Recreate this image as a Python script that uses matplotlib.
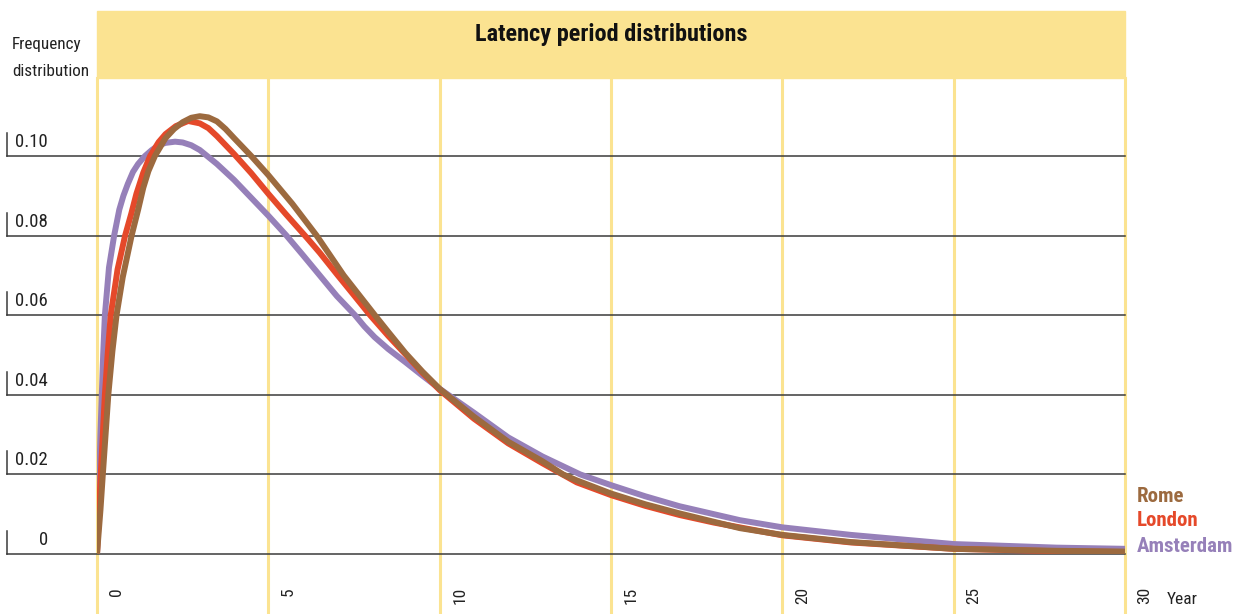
import matplotlib
matplotlib.use("Agg")
import matplotlib.pyplot as plt
from matplotlib import font_manager
from matplotlib.patches import Rectangle

# values (year, frequency)
rome_years = [0, 0.1, 0.17, 0.25, 0.33, 0.45, 0.57, 0.75, 1.01, 1.2, 1.35, 1.5, 1.69, 2.0,
              2.25, 2.5, 2.75, 3.0, 3.25, 3.5, 3.75, 4.0, 4.5, 5.0, 5.7, 6.41, 7.2, 8.11,
              8.5, 9.0, 9.5, 10.0, 11.0, 12.0, 13.0, 13.6, 14.0, 15.0, 16.0, 17.0, 18.0,
              18.76, 20.0, 22.0, 25.0, 28.0, 30.0]
rome_freq = [0, 0.011, 0.02, 0.030, 0.04, 0.051, 0.06, 0.0695, 0.08, 0.0865, 0.092,
             0.0962, 0.10, 0.1045, 0.1068, 0.1085, 0.1096, 0.110, 0.1097, 0.1087, 0.1068,
             0.1045, 0.1000, 0.0952, 0.0880, 0.080, 0.070, 0.060, 0.0558, 0.0505, 0.0458,
             0.0415, 0.0345, 0.0282, 0.0233, 0.020, 0.0185, 0.0152, 0.0125, 0.0102,
             0.0081, 0.0065, 0.0048, 0.0030, 0.0013, 0.0008, 0.0006]

london_years = [0, 0.05, 0.11, 0.17, 0.23, 0.31, 0.40, 0.6, 0.82, 1.0, 1.15, 1.35, 1.55,
                1.8, 2.0, 2.3, 2.66, 3.0, 3.25, 3.5, 4.0, 4.5, 5.0, 5.5, 6.12, 6.5, 7.0,
                7.5, 7.97, 8.5, 9.0, 9.5, 10.0, 11.0, 12.0, 13.0, 14.0, 15.0, 16.0, 17.0,
                18.0, 20.0, 22.0, 25.0, 28.0, 30.0]
london_freq = [0, 0.009, 0.02, 0.030, 0.04, 0.050, 0.06, 0.0715, 0.08, 0.0855, 0.0905,
               0.0958, 0.10, 0.1035, 0.1055, 0.1075, 0.1088, 0.1082, 0.107, 0.105, 0.1005,
               0.0957, 0.0905, 0.0855, 0.0795, 0.0757, 0.0703, 0.065, 0.060, 0.0548, 0.0502,
               0.0455, 0.0412, 0.0340, 0.0278, 0.0228, 0.0180, 0.0148, 0.0121, 0.0098,
               0.0079, 0.0047, 0.0029, 0.0013, 0.0007, 0.0005]

amsterdam_years = [0, 0.03, 0.07, 0.10, 0.14, 0.18, 0.23, 0.35, 0.5, 0.65, 0.77, 0.9,
                   1.05, 1.2, 1.40, 1.6, 1.8, 2.0, 2.28, 2.5, 2.75, 3.0, 3.5, 4.0, 4.5,
                   5.0, 5.53, 6.0, 6.5, 7.0, 7.53, 7.8, 8.1, 8.5, 9.0, 9.5, 10.0, 11.0,
                   12.0, 13.0, 14.1, 15.0, 16.0, 17.0, 18.76, 20.0, 22.0, 25.0, 28.0, 30.0]
amsterdam_freq = [0, 0.009, 0.02, 0.03, 0.04, 0.05, 0.06, 0.072, 0.08, 0.0865, 0.09,
                  0.0930, 0.0960, 0.0980, 0.10, 0.1015, 0.1027, 0.1033, 0.1036, 0.1034,
                  0.1027, 0.1015, 0.0980, 0.0940, 0.0895, 0.0850, 0.080, 0.0752, 0.070,
                  0.0648, 0.060, 0.0572, 0.0545, 0.0515, 0.0482, 0.0448, 0.0415, 0.0355,
                  0.0293, 0.0245, 0.020, 0.0173, 0.0145, 0.0120, 0.0085, 0.0067, 0.0048,
                  0.0025, 0.0016, 0.0013]

x_ticks = [0, 5, 10, 15, 20, 25, 30]
y_ticks = [0, 0.02, 0.04, 0.06, 0.08, 0.10]
y_labels = ["0", "0.02", "0.04", "0.06", "0.08", "0.10"]

brown = "#9c6a3f"
red = "#e5492a"
purple = "#9680b9"
yellow = "#fbe391"
grid_col = "#3a3a3a"

# pick a narrow font if one is around
names = {f.name for f in font_manager.fontManager.ttflist}
narrow = "DejaVu Sans"
for cand in ["Liberation Sans Narrow", "Roboto Condensed", "DejaVu Sans Condensed",
             "Open Sans Condensed", "Roboto"]:
    if cand in names:
        narrow = cand
        break
plt.rcParams["font.family"] = [narrow, "DejaVu Sans"]

W, H = 1242, 614
fig = plt.figure(figsize=(W / 100, H / 100), dpi=100)
ax = fig.add_axes([97 / W, 60 / H, 1028 / W, 476 / H])
ax.set_xlim(0, 30)
ax.set_ylim(0, (554 - 78) / 3980)
ax.axis("off")

# header band
ax.add_patch(Rectangle((0, 1), 1, 67 / 476, transform=ax.transAxes, color=yellow,
                       clip_on=False, zorder=0))
fig.text(611 / W, 1 - 34 / H, "Latency period distributions", ha="center", va="center",
         fontsize=17.5, fontweight="bold", color="#111111")

# vertical year lines
for x in x_ticks:
    ax.axvline(x, ymin=-60 / 476, ymax=1, color=yellow, lw=2.2, clip_on=False, zorder=1)
    ax.annotate(str(x), xy=(x, 0), xycoords="data", xytext=(20, -33),
                textcoords="offset pixels", rotation=90, ha="center", va="top",
                fontsize=12.5, color="#222222")

# horizontal lines with their little ticks
gx0 = (7 - 97) / 1028
for y, lab in zip(y_ticks, y_labels):
    ax.plot([gx0, 1], [y, y], transform=ax.get_yaxis_transform(), color=grid_col, lw=1.1,
            clip_on=False, zorder=2)
    ax.plot([gx0, gx0], [y, y + 23 / 3980], transform=ax.get_yaxis_transform(),
            color=grid_col, lw=1.1, clip_on=False, zorder=2)
    ax.annotate(lab, xy=(0, y), xycoords="data", xytext=(48 - 97, 14),
                textcoords="offset pixels", ha="right", va="center", fontsize=13.5,
                color="#222222")

ax.plot(amsterdam_years, amsterdam_freq, color=purple, lw=4.3, zorder=3,
        solid_capstyle="butt", solid_joinstyle="round")
ax.plot(london_years, london_freq, color=red, lw=4.3, zorder=4, solid_capstyle="butt",
        solid_joinstyle="round")
ax.plot(rome_years, rome_freq, color=brown, lw=4.3, zorder=5, solid_capstyle="butt",
        solid_joinstyle="round")

fig.text(12 / W, 1 - 45 / H, "Frequency", ha="left", va="center", fontsize=12.3,
         color="#222222")
fig.text(12 / W, 1 - 72 / H, "distribution", ha="left", va="center", fontsize=12.3,
         color="#222222")

fig.text(1137 / W, 1 - 497 / H, "Rome", ha="left", va="center", fontsize=15,
         fontweight="bold", color=brown)
fig.text(1137 / W, 1 - 521 / H, "London", ha="left", va="center", fontsize=15,
         fontweight="bold", color=red)
fig.text(1137 / W, 1 - 546 / H, "Amsterdam", ha="left", va="center", fontsize=15,
         fontweight="bold", color=purple)
fig.text(1167 / W, 1 - 600 / H, "Year", ha="left", va="center", fontsize=12.5,
         color="#222222")

fig.savefig("out.png", dpi=100)
